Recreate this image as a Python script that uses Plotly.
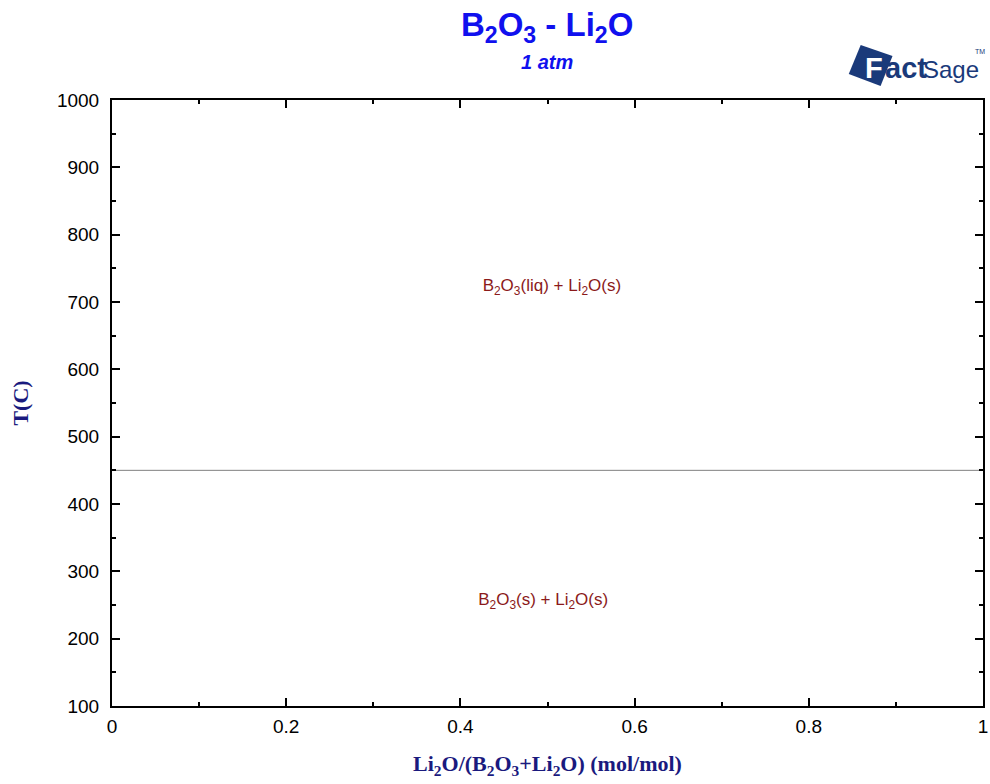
import plotly.graph_objects as go

# Data
line_x = [0, 1]
line_T = [450, 450]
label_texts = ["B<sub>2</sub>O<sub>3</sub>(liq) + Li<sub>2</sub>O(s)",
               "B<sub>2</sub>O<sub>3</sub>(s) + Li<sub>2</sub>O(s)"]
label_x = [0.505, 0.495]
label_T = [722, 256]
x_ticks = [0, 0.2, 0.4, 0.6, 0.8, 1]
x_ticklabels = ["0", "0.2", "0.4", "0.6", "0.8", "1"]
y_ticks = [100, 200, 300, 400, 500, 600, 700, 800, 900, 1000]

# plot-area geometry in pixels (for logo/title placement)
L, R, T, B = 112, 988, 100, 706


def px(x):
    return (x - L) / (R - L)


def py(y):
    return (B - y) / (B - T)


fig = go.Figure()
fig.add_trace(go.Scatter(x=line_x, y=line_T, mode="lines",
                         line=dict(color="#808080", width=1), showlegend=False,
                         hoverinfo="skip"))
fig.add_trace(go.Scatter(x=label_x, y=label_T, mode="text", text=label_texts,
                         textfont=dict(family="Liberation Sans, Arial", size=17, color="#8b1a1a"),
                         showlegend=False, hoverinfo="skip"))

axis_common = dict(showgrid=False, zeroline=False, showline=True, linecolor="black",
                   linewidth=2, mirror="ticks", ticks="inside", ticklen=8, tickwidth=2,
                   tickcolor="black", ticklabeloverflow="allow",
                   tickfont=dict(family="Liberation Sans, Arial", size=19, color="black"))

fig.update_xaxes(range=[0, 1], tickvals=x_ticks, ticktext=x_ticklabels,
                 ticklabelstandoff=2,
                 minor=dict(dtick=0.1, ticklen=4, tickwidth=2, tickcolor="black", ticks="inside"),
                 title=dict(text="<b>Li<sub>2</sub>O/(B<sub>2</sub>O<sub>3</sub>+Li<sub>2</sub>O) (mol/mol)</b>",
                            font=dict(family="Liberation Serif, Times New Roman", size=22, color="#1a1a7e"),
                            standoff=20),
                 **axis_common)
fig.update_yaxes(range=[100, 1000], tickvals=y_ticks,
                 ticklabelstandoff=7,
                 minor=dict(dtick=50, ticklen=4, tickwidth=2, tickcolor="black", ticks="inside"),
                 title=dict(text="<b>T(C)</b>",
                            font=dict(family="Liberation Serif, Times New Roman", size=22, color="#1a1a7e"),
                            standoff=22),
                 **axis_common)

fig.update_layout(
    width=990, height=784,
    margin=dict(l=112, r=2, t=100, b=78),
    plot_bgcolor="white", paper_bgcolor="white",
    annotations=[
        dict(text="<b>B<sub>2</sub>O<sub>3</sub> - Li<sub>2</sub>O</b>", xref="paper", yref="paper",
             x=px(549), y=py(27), yanchor="middle", showarrow=False,
             font=dict(family="Liberation Sans, Arial", size=33, color="#1010ee")),
        dict(text="<b><i>1 atm</i></b>", xref="paper", yref="paper",
             x=px(549), y=py(62), yanchor="middle", showarrow=False,
             font=dict(family="Liberation Sans, Arial", size=20, color="#1010ee")),
        # FactSage logo
        dict(text="<b>F</b>", xref="paper", yref="paper", x=px(867), y=py(68),
             xanchor="left", yanchor="middle", showarrow=False,
             font=dict(family="Liberation Sans, Arial", size=29, color="white")),
        dict(text="<b>act</b>", xref="paper", yref="paper", x=px(887), y=py(68),
             xanchor="left", yanchor="middle", showarrow=False,
             font=dict(family="Liberation Sans, Arial", size=29, color="#1a3a7a")),
        dict(text="Sage", xref="paper", yref="paper", x=px(926), y=py(70),
             xanchor="left", yanchor="middle", showarrow=False,
             font=dict(family="Liberation Sans Narrow, Liberation Sans, Arial", size=24, color="#1a3a7a")),
        dict(text="TM", xref="paper", yref="paper", x=px(978), y=py(51),
             xanchor="left", yanchor="middle", showarrow=False,
             font=dict(family="Liberation Sans Narrow, Liberation Sans, Arial", size=7, color="#1a3a7a")),
    ],
    shapes=[
        dict(type="path", xref="paper", yref="paper", layer="below",
             path=(f"M {px(865)},{py(45)} L {px(897)},{py(56)} "
                   f"L {px(885)},{py(86)} L {px(853)},{py(74)} Z"),
             fillcolor="#1a3a7a", line=dict(width=0)),
    ],
)

fig.write_html("out.html")
